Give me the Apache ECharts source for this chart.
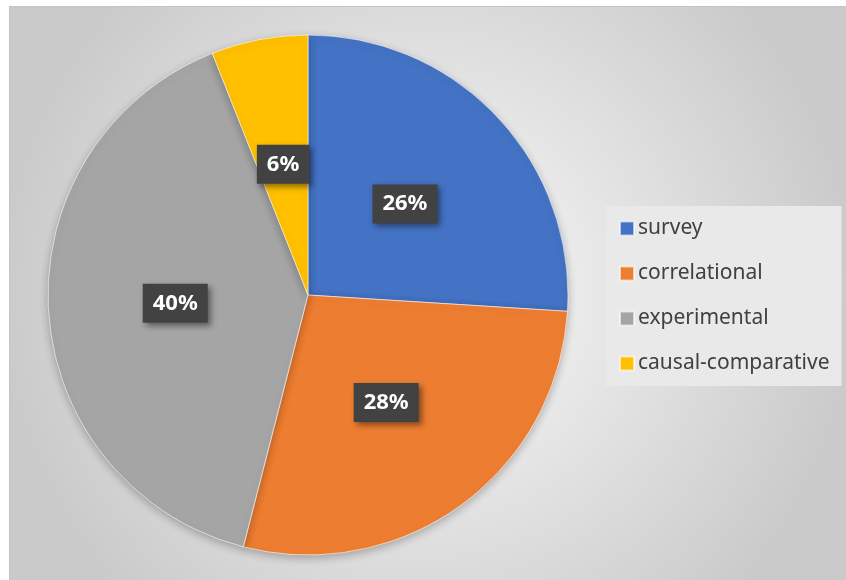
<!DOCTYPE html>
<html>
<head>
<meta charset="utf-8">
<script src="https://cdn.jsdelivr.net/npm/echarts@6/dist/echarts.min.js"></script>
<style>
  html, body { margin: 0; padding: 0; background: #fff; }
  #chart {
    position: absolute;
    left: 9px;
    top: 6px;
    width: 837px;
    height: 574px;
    border-left: 1px solid #c4c4c4;
    border-top: 1px solid #c4c4c4;
    box-sizing: border-box;
  }
</style>
</head>
<body>
<div id="chart"></div>
<script>
// research designs, share of studies (%)
const categories = ['survey', 'correlational', 'experimental', 'causal-comparative'];
const values = [26, 28, 40, 6];
const colors = ['#4472C4', '#ED7D31', '#A5A5A5', '#FFC000'];

const chart = echarts.init(document.getElementById('chart'));

const option = {
  backgroundColor: {
    type: 'radial',
    x: 0.5, y: 0.5, r: 0.75,
    colorStops: [
      { offset: 0, color: '#fbfbfb' },
      { offset: 1, color: '#cacaca' }
    ]
  },
  animation: false,
  legend: {
    orient: 'vertical',
    left: 596,
    top: 199,
    data: categories,
    icon: 'rect',
    itemWidth: 14,
    itemHeight: 14,
    itemGap: 24,
    padding: [12, 12, 12, 13],
    backgroundColor: '#e9e9e9',
    textStyle: {
      fontFamily: 'Noto Sans',
      fontSize: 21,
      color: '#404040',
      padding: [0, 0, 0, -1]
    }
  },
  series: [{
    type: 'pie',
    center: [298, 288],
    radius: 260,
    startAngle: 90,
    clockwise: true,
    data: categories.map((name, i) => ({ name, value: values[i] })),
    itemStyle: {
      color: p => colors[p.dataIndex],
      borderColor: 'rgba(255,255,255,0.6)',
      borderWidth: 1,
      shadowColor: 'rgba(0,0,0,0.25)',
      shadowBlur: 8,
      shadowOffsetY: 3
    },
    emphasis: { disabled: true },
    label: {
      position: 'inside',
      formatter: p => p.value + '%',
      color: '#ffffff',
      fontFamily: 'Noto Sans',
      fontWeight: 'bold',
      fontSize: 22,
      backgroundColor: '#424242',
      padding: [9, 10, 8, 10],
      shadowColor: 'rgba(0,0,0,0.45)',
      shadowBlur: 6,
      shadowOffsetX: 3,
      shadowOffsetY: 3
    },
    labelLine: { show: false }
  }]
};

chart.setOption(option);
</script>
</body>
</html>
